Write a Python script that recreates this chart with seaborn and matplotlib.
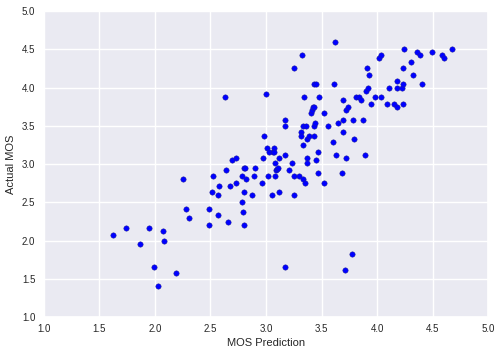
import matplotlib
matplotlib.use("Agg")
import matplotlib.pyplot as plt
import seaborn as sns
import pandas as pd

mos_prediction = [
    1.62, 1.74, 1.87, 1.95, 2.07, 2.08, 1.99, 2.03, 2.19, 2.25,
    2.28, 2.31, 2.49, 2.49, 2.51, 2.52, 2.57, 2.57, 2.58, 2.63,
    2.64, 2.66, 2.68, 2.69, 2.73, 2.73, 2.78, 2.78, 2.79, 2.80,
    2.80, 2.80, 2.81, 2.82, 2.87, 2.89, 2.90, 2.96, 2.97, 2.98,
    3.00, 3.01, 3.02, 3.03, 3.05, 3.06, 3.07, 3.07, 3.08, 3.08,
    3.09, 3.10, 3.11, 3.12, 3.12, 3.17, 3.17, 3.17, 3.17, 3.21,
    3.23, 3.25, 3.25, 3.25, 3.30, 3.31, 3.31, 3.32, 3.33, 3.33,
    3.33, 3.34, 3.35, 3.36, 3.37, 3.37, 3.37, 3.39, 3.40, 3.41,
    3.42, 3.43, 3.43, 3.43, 3.43, 3.44, 3.45, 3.45, 3.47, 3.47,
    3.48, 3.52, 3.52, 3.56, 3.60, 3.61, 3.62, 3.63, 3.65, 3.68,
    3.69, 3.69, 3.69, 3.71, 3.72, 3.72, 3.74, 3.77, 3.78, 3.79,
    3.81, 3.84, 3.85, 3.87, 3.89, 3.90, 3.91, 3.92, 3.93, 3.94,
    3.98, 4.02, 4.03, 4.03, 4.11, 4.09, 4.15, 4.18, 4.18, 4.18,
    4.22, 4.23, 4.23, 4.23, 4.24, 4.30, 4.32, 4.36, 4.38, 4.40,
    4.49, 4.58, 4.60, 4.67,
]
actual_mos = [
    2.08, 2.17, 1.96, 2.17, 2.13, 2.00, 1.66, 1.41, 1.58, 2.80,
    2.42, 2.29, 2.42, 2.21, 2.63, 2.84, 2.33, 2.59, 2.71, 3.88,
    2.92, 2.25, 2.71, 3.05, 3.08, 2.75, 2.50, 2.84, 2.38, 2.63,
    2.21, 2.95, 2.95, 2.80, 2.59, 2.84, 2.95, 2.75, 3.08, 3.37,
    3.92, 3.21, 2.84, 3.16, 2.59, 3.16, 3.21, 3.16, 3.01, 2.84,
    2.92, 2.94, 2.95, 3.08, 2.63, 3.58, 3.50, 3.12, 1.66, 2.92,
    3.01, 4.26, 2.84, 2.59, 2.84, 3.42, 3.37, 4.42, 3.50, 3.25,
    2.80, 3.88, 2.75, 3.50, 3.33, 3.08, 3.01, 3.37, 3.67, 3.71,
    3.74, 3.50, 3.37, 3.75, 4.05, 3.54, 3.05, 4.05, 3.16, 2.88,
    3.88, 2.75, 3.67, 3.50, 3.29, 4.05, 4.59, 3.12, 3.54, 2.88,
    3.42, 3.58, 3.84, 1.62, 3.71, 3.08, 3.75, 1.83, 3.58, 3.33,
    3.88, 3.88, 3.84, 3.58, 3.12, 3.96, 4.26, 4.00, 4.17, 3.79,
    3.88, 4.38, 4.42, 3.88, 4.00, 3.79, 3.79, 3.75, 4.09, 4.00,
    4.00, 4.05, 3.79, 4.26, 4.51, 4.34, 4.17, 4.47, 4.42, 4.05,
    4.47, 4.42, 4.38, 4.51,
]

df = pd.DataFrame({"MOS Prediction": mos_prediction, "Actual MOS": actual_mos})

sns.set_theme(style="darkgrid")
plt.rcParams["font.family"] = ["Liberation Sans", "DejaVu Sans"]

fig = plt.figure(figsize=(5.02, 3.56), dpi=100)
ax = fig.add_axes([0.087, 0.109, 0.886, 0.860])
sns.scatterplot(data=df, x="MOS Prediction", y="Actual MOS", ax=ax,
                color="#0000ff", edgecolor="#20208a", linewidth=0.3, s=15)
ax.set_xlim(1.0, 5.0)
ax.set_ylim(1.0, 5.0)
ticks = [1.0, 1.5, 2.0, 2.5, 3.0, 3.5, 4.0, 4.5, 5.0]
ax.set_xticks(ticks)
ax.set_yticks(ticks)
ax.set_xticklabels([f"{t:.1f}" for t in ticks])
ax.set_yticklabels([f"{t:.1f}" for t in ticks])
ax.tick_params(labelsize=7, colors=".15", length=0)
ax.tick_params(axis="x", pad=5)
ax.tick_params(axis="y", pad=6)
ax.set_xlabel("MOS Prediction", fontsize=8, color=".15", labelpad=3)
ax.set_ylabel("Actual MOS", fontsize=8, color=".15", labelpad=4)
fig.savefig("out.png", dpi=100)
